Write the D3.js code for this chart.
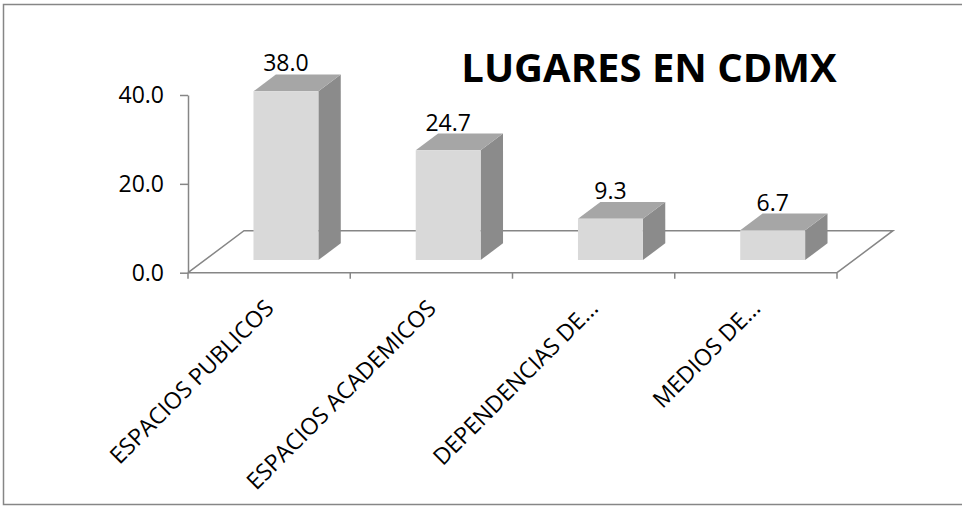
<!DOCTYPE html>
<html>
<head>
<meta charset="utf-8">
<script src="https://cdn.jsdelivr.net/npm/d3@7"></script>
<style>
  body { margin: 0; background: #fff; }
  svg { display: block; font-family: "Open Sans", sans-serif; }
</style>
</head>
<body>
<svg id="chart" width="962" height="506"></svg>
<script>
// data
const categories = ['ESPACIOS PUBLICOS', 'ESPACIOS ACADEMICOS', 'DEPENDENCIAS DE...', 'MEDIOS DE...'];
const values = [38.0, 24.7, 9.3, 6.7];
const yTicks = [0, 20, 40];
const title = 'LUGARES EN CDMX';

const svg = d3.select('#chart');
const lineColor = '#868686';
const fontSize = '23px';

// outer frame
svg.append('rect')
    .attr('x', 3.5).attr('y', 4.5)
    .attr('width', 970).attr('height', 500)
    .attr('fill', 'none')
    .attr('stroke', lineColor)
    .attr('stroke-width', 1.5);

// scales
const x = d3.scaleBand().domain(categories).range([188, 837]).padding(0);
const y = d3.scaleLinear().domain([0, 40]).range([272.7, 95]);

// depth of the floor (oblique projection)
const depth = { dx: 56, dy: -42 };
const zFront = 0.3, zBack = 0.7, barFrac = 0.4;
const proj = (px, py, z) => [px + depth.dx * z, py + depth.dy * z];

// floor
const x0 = x.range()[0], x1 = x.range()[1], y0 = y(0);
svg.append('path')
    .attr('d', d3.line()([[x0, y0], proj(x0, y0, 1), proj(x1, y0, 1), [x1, y0]]))
    .attr('fill', 'none')
    .attr('stroke', lineColor)
    .attr('stroke-width', 1.5);

// y axis
const yAxis = svg.append('g')
    .attr('transform', `translate(${x0},0)`)
    .call(d3.axisLeft(y).tickValues(yTicks).tickFormat(d3.format('.1f'))
        .tickSize(8).tickSizeOuter(0).tickPadding(16));
yAxis.select('.domain').attr('stroke', lineColor).attr('stroke-width', 1.5);
yAxis.selectAll('.tick line').attr('stroke', lineColor).attr('stroke-width', 1.5);
yAxis.selectAll('.tick text')
    .attr('fill', '#000')
    .style('font-size', fontSize)
    .style('font-family', '"Open Sans", sans-serif');

// x axis line with ticks between categories
svg.append('line')
    .attr('x1', x0).attr('x2', x1)
    .attr('y1', y0).attr('y2', y0)
    .attr('stroke', lineColor).attr('stroke-width', 1.5);

const boundaries = categories.map(c => x(c)).concat([x1]);
svg.selectAll('.xtick')
    .data(boundaries)
    .enter()
    .append('line')
    .attr('class', 'xtick')
    .attr('x1', d => d).attr('x2', d => d)
    .attr('y1', y0).attr('y2', y0 + 6)
    .attr('stroke', lineColor).attr('stroke-width', 1.5);

// category labels
svg.selectAll('.xlabel')
    .data(categories)
    .enter()
    .append('text')
    .attr('class', 'xlabel')
    .attr('transform', d => `translate(${x(d) + x.bandwidth() / 2 + 6}, ${y0 + 37}) rotate(-45)`)
    .attr('text-anchor', 'end')
    .style('font-size', fontSize)
    .attr('fill', '#000')
    .text(d => d);

// bars
const bars = svg.selectAll('.bar')
    .data(categories.map((c, i) => ({ cat: c, value: values[i] })))
    .enter()
    .append('g')
    .attr('class', 'bar');

bars.each(function(d) {
    const g = d3.select(this);
    const bw = x.bandwidth() * barFrac;
    const bx = x(d.cat) + (x.bandwidth() - bw) / 2;
    const top = y(d.value);
    const fl = proj(bx, y0, zFront), fr = proj(bx + bw, y0, zFront);
    const tl = proj(bx, top, zFront), tr = proj(bx + bw, top, zFront);
    const btl = proj(bx, top, zBack), btr = proj(bx + bw, top, zBack);
    const bbr = proj(bx + bw, y0, zBack);

    // side face
    g.append('path')
        .attr('d', d3.line()([fr, tr, btr, bbr]) + 'Z')
        .attr('fill', '#8b8b8b');
    // top face
    g.append('path')
        .attr('d', d3.line()([tl, tr, btr, btl]) + 'Z')
        .attr('fill', '#a6a6a6');
    // front face
    g.append('path')
        .attr('d', d3.line()([fl, tl, tr, fr]) + 'Z')
        .attr('fill', '#d9d9d9');

    // value label
    g.append('text')
        .attr('x', (tl[0] + tr[0]) / 2)
        .attr('y', btl[1] - 3)
        .attr('text-anchor', 'middle')
        .style('font-size', fontSize)
        .attr('fill', '#000')
        .text(d3.format('.1f')(d.value));
});

// title
svg.append('text')
    .attr('x', 649)
    .attr('y', 82)
    .attr('text-anchor', 'middle')
    .style('font-size', '40px')
    .style('font-weight', 'bold')
    .attr('fill', '#000')
    .text(title);
</script>
</body>
</html>
